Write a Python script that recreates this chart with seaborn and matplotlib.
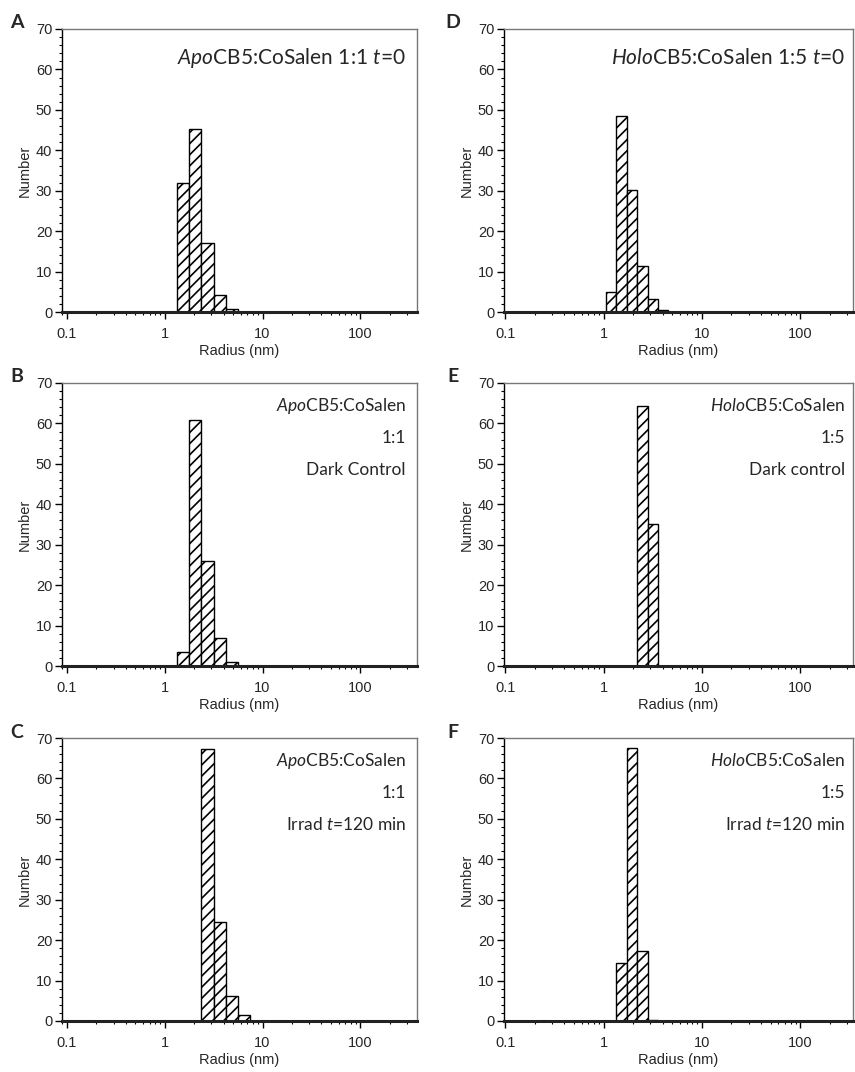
import numpy as np
import pandas as pd
import matplotlib
matplotlib.use("Agg")
import matplotlib.pyplot as plt
import matplotlib.ticker as mticker
import seaborn as sns

# bin edges (nm) and number-weighted counts
edges_a = [1.33, 1.78, 2.37, 3.16, 4.22, 5.62]
counts_a = [32.0, 45.2, 17.0, 4.3, 0.8]

edges_b = [1.33, 1.78, 2.37, 3.16, 4.22, 5.62]
counts_b = [3.5, 60.8, 26.0, 6.9, 1.1]

edges_c = [2.37, 3.16, 4.22, 5.62, 7.50]
counts_c = [67.3, 24.6, 6.1, 1.4]

edges_d = [1.06, 1.35, 1.74, 2.20, 2.82, 3.57, 4.51]
counts_d = [5.0, 48.5, 30.3, 11.5, 3.2, 0.5]

edges_e = [2.20, 2.82, 3.57]
counts_e = [64.4, 35.2]

edges_f = [1.35, 1.74, 2.20, 2.82, 3.57]
counts_f = [14.4, 67.5, 17.4, 0.2]

x_ticks = [0.1, 1, 10, 100]
x_tick_labels = ["0.1", "1", "10", "100"]

panel_letters = ["A", "B", "C", "D", "E", "F"]
panel_texts = [
    [r"$\mathit{Apo}$CB5:CoSalen 1:1 $\mathit{t}$=0"],
    [r"$\mathit{Apo}$CB5:CoSalen", "1:1", "Dark Control"],
    [r"$\mathit{Apo}$CB5:CoSalen", "1:1", r"Irrad $\mathit{t}$=120 min"],
    [r"$\mathit{Holo}$CB5:CoSalen 1:5 $\mathit{t}$=0"],
    [r"$\mathit{Holo}$CB5:CoSalen", "1:5", "Dark control"],
    [r"$\mathit{Holo}$CB5:CoSalen", "1:5", r"Irrad $\mathit{t}$=120 min"],
]
panel_edges = [edges_a, edges_b, edges_c, edges_d, edges_e, edges_f]
panel_counts = [counts_a, counts_b, counts_c, counts_d, counts_e, counts_f]

sns.set_style("ticks")
plt.rcParams["font.family"] = ["Liberation Sans", "DejaVu Sans"]
plt.rcParams["mathtext.fontset"] = "custom"
plt.rcParams["mathtext.rm"] = "Lato"
plt.rcParams["mathtext.it"] = "Lato:italic"
plt.rcParams["hatch.linewidth"] = 1.2

fig = plt.figure(figsize=(8.55, 10.72), dpi=100)
W, H = 855, 1072

tops = [29, 383, 738]
col_left = [62, 504]
col_right = [417, 853]
xlims = [(0.089, 380), (0.097, 345)]
ax_h = 283

for i in range(6):
    col, row = divmod(i, 3)
    l, r = col_left[col], col_right[col]
    t = tops[row]
    ax = fig.add_axes([l / W, 1 - (t + ax_h) / H, (r - l) / W, ax_h / H])

    edges = np.array(panel_edges[i])
    centers = np.sqrt(edges[:-1] * edges[1:])
    df = pd.DataFrame({"radius": centers, "number": panel_counts[i]})
    log_bins = [float(v) for v in np.log10(edges)]
    sns.histplot(data=df, x="radius", weights="number", bins=log_bins,
                 log_scale=True, stat="count", color="white", edgecolor="black",
                 linewidth=1.0, hatch="///", alpha=1, ax=ax, zorder=2)

    ax.set_xlim(*xlims[col])
    ax.set_ylim(0, 70)
    ax.set_xticks(x_ticks)
    ax.set_xticklabels(x_tick_labels)
    ax.xaxis.set_minor_locator(mticker.LogLocator(base=10, subs=np.arange(2, 10)))
    ax.xaxis.set_minor_formatter(mticker.NullFormatter())
    ax.yaxis.set_major_locator(mticker.MultipleLocator(10))
    ax.yaxis.set_minor_locator(mticker.MultipleLocator(2))
    ax.tick_params(axis="both", which="major", direction="out", length=5,
                   width=1, labelsize=10.5, color="black")
    ax.tick_params(axis="both", which="minor", direction="out", length=2.5,
                   width=0.8, color="black")
    ax.tick_params(axis="x", which="major", pad=6)
    ax.tick_params(axis="y", which="major", pad=2)

    for s in ["top", "right"]:
        ax.spines[s].set_color("#777777")
        ax.spines[s].set_linewidth(1.0)
    ax.spines["left"].set_color("black")
    ax.spines["left"].set_linewidth(1.0)
    ax.spines["bottom"].set_color("#222222")
    ax.spines["bottom"].set_linewidth(2.2)
    ax.spines["bottom"].set_zorder(3)

    ax.set_xlabel("Radius (nm)", fontsize=10.5, labelpad=2)
    ax.set_ylabel("Number", fontsize=10.5, labelpad=3)
    ax.grid(False)

    lines = panel_texts[i]
    x_txt = 0.969 if col == 0 else 0.978
    if len(lines) == 1:
        ax.text(x_txt, 1 - 35 / ax_h, lines[0], transform=ax.transAxes,
                ha="right", va="baseline", fontsize=15, family="Lato")
    else:
        for k, line in enumerate(lines):
            ax.text(x_txt, 1 - (28 + 32 * k) / ax_h, line, transform=ax.transAxes,
                    ha="right", va="baseline", fontsize=12.5, family="Lato")

    lx = 17 if col == 0 else 453
    fig.text(lx / W, 1 - (t - 6) / H, panel_letters[i], ha="center", va="center",
             fontsize=14, fontweight="bold", family="Lato")

fig.savefig("out.png", dpi=100, facecolor="white")
